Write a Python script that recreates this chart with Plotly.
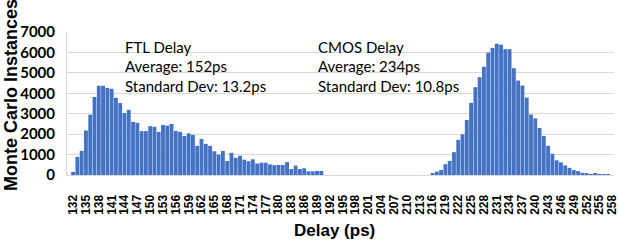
import plotly.graph_objects as go

# ---- data ----
delay_ps = list(range(132, 259))  # categories, 1 ps bins
ftl_counts = [150, 890, 1180, 2180, 2950, 3820, 4370, 4370, 4260, 4220,
              3780, 3520, 3030, 3190, 2600, 2550, 2150, 2150, 2390, 2360,
              2110, 2450, 2420, 2500, 2155, 2110, 1910, 2040, 1960, 1430,
              1765, 1525, 1425, 1160, 1000, 1175, 685, 1085, 840, 940,
              750, 680, 770, 560, 600, 600, 520, 480, 490, 490,
              630, 290, 460, 290, 330, 180, 180, 200, 200]
gap_counts = [0] * 25
cmos_counts = [90, 165, 245, 530, 690, 1120, 1720, 1995, 2695, 3530,
               4300, 4790, 5300, 5990, 6220, 6420, 6380, 6160, 6160, 5230,
               4625, 4380, 3790, 2960, 2770, 2300, 1905, 1430, 1040, 720,
               620, 470, 350, 240, 190, 110, 60, 15, 60, 10, 5, 5, 0]
counts = ftl_counts + gap_counts + cmos_counts
x_tick_vals = list(range(132, 259, 3))
y_tick_vals = list(range(0, 7001, 1000))
ftl_text = ["FTL Delay", "Average: 152ps", "Standard Dev: 13.2ps"]
cmos_text = ["CMOS Delay", "Average: 234ps", "Standard Dev: 10.8ps"]

W, H = 618, 240
L, R, T, B = 67, 614, 32, 175


def px(xp):
    return (xp - L) / (R - L)


def py(yp):
    return (B - yp) / (B - T)


fig = go.Figure(go.Bar(x=delay_ps, y=counts, marker=dict(color="#4472C4", line=dict(width=0)),
                       hoverinfo="x+y"))

annotations = []
for i, t in enumerate(ftl_text):
    annotations.append(dict(x=px(123), y=py(47 + 19.3 * i), xref="paper", yref="paper",
                            text=t, showarrow=False, xanchor="left", yanchor="middle",
                            font=dict(family="Lato", size=15, color="#000000")))
for i, t in enumerate(cmos_text):
    annotations.append(dict(x=px(316), y=py(47 + 19.3 * i), xref="paper", yref="paper",
                            text=t, showarrow=False, xanchor="left", yanchor="middle",
                            font=dict(family="Lato", size=15, color="#000000")))
annotations.append(dict(x=px(11), y=py(95), xref="paper", yref="paper", text="Monte Carlo Instances",
                        textangle=-90, showarrow=False, xanchor="center", yanchor="middle",
                        font=dict(family="Liberation Sans", size=18, color="#000000", weight="bold")))
annotations.append(dict(x=px(334), y=py(230), xref="paper", yref="paper", text="Delay (ps)",
                        showarrow=False, xanchor="center", yanchor="middle",
                        font=dict(family="Liberation Sans", size=17, color="#000000", weight="bold")))

fig.update_layout(
    width=W, height=H,
    margin=dict(l=L, r=W - R, t=T, b=H - B, autoexpand=False),
    paper_bgcolor="white", plot_bgcolor="white",
    bargap=0.1,
    showlegend=False,
    annotations=annotations,
    xaxis=dict(range=[130.57, 258.4], tickmode="array", tickvals=x_tick_vals,
               ticktext=[str(v) for v in x_tick_vals], tickangle=-90, automargin=False,
               ticklabeloverflow="allow",
               showgrid=False, zeroline=False, showline=True, linecolor="#D9D9D9", linewidth=1,
               ticks="", ticklabelstandoff=14,
               tickfont=dict(family="Liberation Sans", size=12, color="#000000", weight="bold")),
    yaxis=dict(range=[0, 7000], tickmode="array", tickvals=y_tick_vals, automargin=False,
               ticklabeloverflow="allow",
               showgrid=True, gridcolor="#D9D9D9", gridwidth=1, zeroline=False,
               showline=True, linecolor="#D9D9D9", linewidth=1, ticks="",
               ticklabelstandoff=8,
               tickfont=dict(family="Lato", size=15, color="#000000", weight="bold")),
)

fig.write_html("out.html", config={"displayModeBar": False},
               post_script="document.body.style.margin='0';document.body.style.padding='0';")
